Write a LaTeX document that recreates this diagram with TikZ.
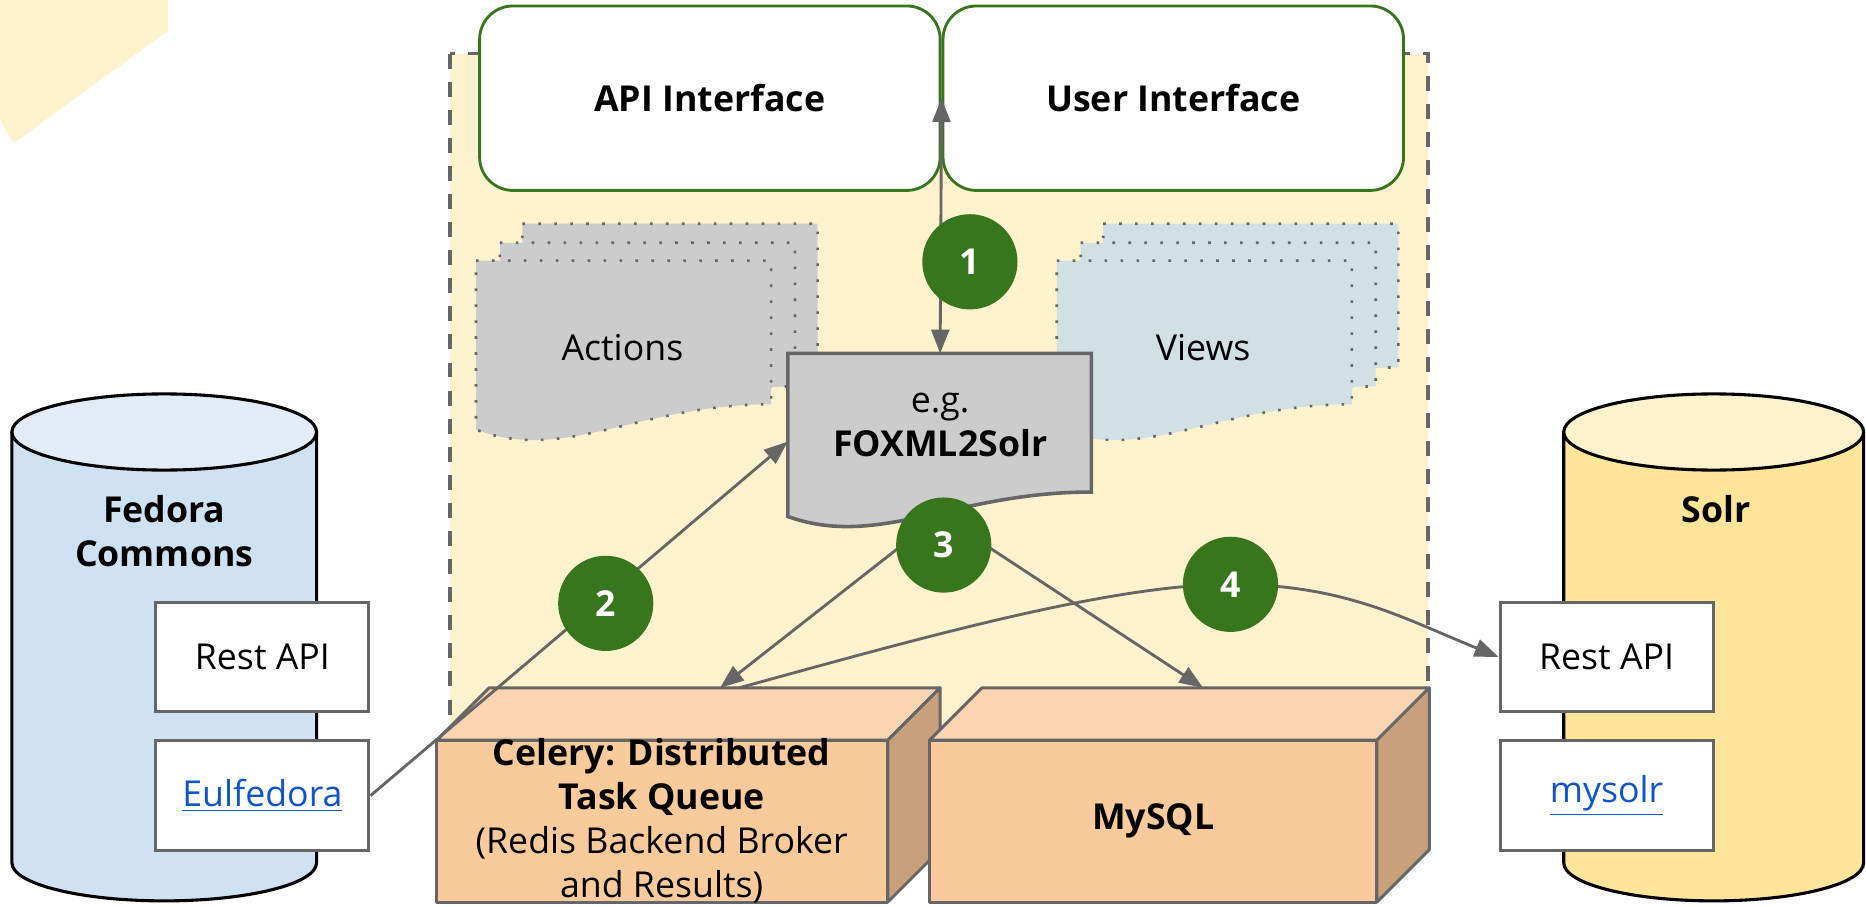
\documentclass[tikz,border=0pt]{standalone}
\usepackage{fontspec}
\setmainfont{Open Sans}
\usetikzlibrary{arrows.meta,positioning}

\definecolor{linegray}{HTML}{666666}
\definecolor{darkgreen}{HTML}{38761D}
\definecolor{paleyellow}{HTML}{FFF2CC}
\definecolor{docgray}{HTML}{CCCCCC}
\definecolor{viewblue}{HTML}{D0E0E3}
\definecolor{boxfront}{HTML}{F9CB9C}
\definecolor{boxtop}{HTML}{FAD5B0}
\definecolor{boxside}{HTML}{C9A07C}
\definecolor{fedorabody}{HTML}{CFE2F3}
\definecolor{fedoratop}{HTML}{E1ECF7}
\definecolor{solrbody}{HTML}{FFE599}
\definecolor{solrtop}{HTML}{FFF2CC}
\definecolor{linkblue}{HTML}{1155CC}

\newcommand{\dgmfont}{\fontsize{15}{18.5}\selectfont}

\tikzstyle{iface}=[draw=darkgreen, line width=1.2pt, fill=white, rounded corners=14pt, minimum width=193.5pt, minimum height=77.5pt, font=\dgmfont\bfseries]
\tikzstyle{rest}=[draw=linegray, line width=1.3pt, fill=white, minimum width=89.5pt, minimum height=46pt, font=\dgmfont]
\tikzstyle{num}=[circle, fill=darkgreen, text=white, minimum size=40pt, inner sep=0pt, font=\dgmfont\bfseries]
\tikzstyle{txt}=[font=\dgmfont, align=center]
\tikzstyle{conn}=[draw=linegray, line width=1.2pt]
\tikzstyle{paper}=[draw=linegray, line width=1.1pt, dash pattern=on 1.1pt off 5.6pt]
\tikzstyle{crate}=[draw=linegray, line width=1.25pt, line join=round]
\tikzstyle{drum}=[draw=black, line width=1.3pt]

\newcommand{\docshape}[5]{%
  \filldraw[#1] (#2,#3) -- ({#2+#4},#3) -- ({#2+#4},{#3+0.85*#5})
    .. controls ({#2+0.55*#4},{#3+0.85*#5}) and ({#2+0.3*#4},{#3+1.2*#5}) .. (#2,{#3+#5}) -- cycle;}

\newcommand{\cratebox}[5]{%
  \filldraw[crate,fill=boxtop] (#1,#2) -- ({#1+#5},{#2-#5}) -- ({#3+#5},{#2-#5}) -- (#3,#2) -- cycle;
  \filldraw[crate,fill=boxside] (#3,#2) -- ({#3+#5},{#2-#5}) -- ({#3+#5},{#4-#5}) -- (#3,#4) -- cycle;
  \filldraw[crate,fill=boxfront] (#1,#2) rectangle (#3,#4);}

\newcommand{\dbcylinder}[6]{%
  \fill[#5] (#1,#3) rectangle (#2,#4);
  \fill[#5] ({(#1+#2)/2},#4) ellipse[x radius={(#2-#1)/2}, y radius=32];
  \draw[drum] (#1,#3) -- (#1,#4) arc[start angle=180, end angle=0, x radius={(#2-#1)/2}, y radius=32] -- (#2,#3);
  \filldraw[drum,fill=#6] ({(#1+#2)/2},#3) ellipse[x radius={(#2-#1)/2}, y radius=32];}

\begin{document}
\begin{tikzpicture}[x=0.5pt,y=-0.5pt,>={Triangle[length=10pt,width=7.5pt]}]
  \useasboundingbox (0,0) rectangle (1568,762);
  \fill[paleyellow] (0,0) -- (141,0) -- (141,26) -- (12,120) .. controls (5,111) .. (0,99) -- cycle;
  \filldraw[fill=paleyellow, draw=linegray, line width=1.6pt, dash pattern=on 6.3pt off 5.5pt] (378,45) rectangle (1200,700);

  \node[iface] (api) at (596.5,82.5) {API Interface};
  \node[iface, right=0pt of api] (ui) {User Interface};

  \docshape{paper,fill=docgray}{439}{188}{248}{142}
  \docshape{paper,fill=docgray}{420}{204}{248}{142}
  \docshape{paper,fill=docgray}{400}{219}{248}{142}
  \node[txt] (actions) at (523,292) {Actions};

  \docshape{paper,fill=viewblue}{927}{188}{248}{142}
  \docshape{paper,fill=viewblue}{908}{204}{248}{142}
  \docshape{paper,fill=viewblue}{888}{219}{248}{142}
  \node[txt] (views) at (1011,292) {Views};

  \docshape{draw=linegray,line width=1.5pt,fill=docgray}{662}{297}{255}{137}
  \node[txt] (foxml) at (790,357) {e.g.\\\textbf{FOXML2Solr}};

  \cratebox{367}{622}{746}{758}{44}
  \node[txt] (celery) at (556,690) {\textbf{Celery: Distributed}\\\textbf{Task Queue}\\(Redis Backend Broker\\and Results)};
  \cratebox{781}{622}{1157}{758}{44}
  \node[txt, font=\dgmfont\bfseries] (mysql) at (969,690) {MySQL};

  \dbcylinder{10}{266}{363}{725}{fedorabody}{fedoratop}
  \node[txt, font=\dgmfont\bfseries] (fedora) at (138,446) {Fedora\\Commons};
  \dbcylinder{1314}{1566}{363}{725}{solrbody}{solrtop}
  \node[txt, font=\dgmfont\bfseries] (solr) at (1442,428) {Solr};

  \node[rest] (frest) at (220.5,552) {Rest API};
  \node[rest, below=11pt of frest] (eul) {\textcolor{linkblue}{\underline{Eulfedora}}};
  \node[rest] (srest) at (1350,552) {Rest API};
  \node[rest, below=11pt of srest] (mysolr) {\textcolor{linkblue}{\underline{mysolr}}};

  \coordinate (foxtop) at (790,297);
  \coordinate (foxleft) at (662,371);
  \coordinate (foxbot) at (790,433);
  \coordinate (celin) at (605,578);
  \coordinate (celout) at (621,578);
  \coordinate (sqlin) at (1011,578);
  \coordinate (c4) at (1034,491);

  \draw[conn,<->] (foxtop) -- (api.east);
  \draw[conn,->] (foxbot) -- (celin);
  \draw[conn,->] (foxbot) -- (sqlin);
  \draw[conn,->] (celout) .. controls (760,540) and (930,491) .. (c4) .. controls (1130,491) and (1180,520) .. (srest.west);
  \draw[conn,->] (eul.east) -- (foxleft);

  \node[num] (one) at (815,220) {1};
  \node[num] (two) at (509,507) {2};
  \node[num] (three) at (793,458) {3};
  \node[num] (four) at (c4) {4};
\end{tikzpicture}
\end{document}
